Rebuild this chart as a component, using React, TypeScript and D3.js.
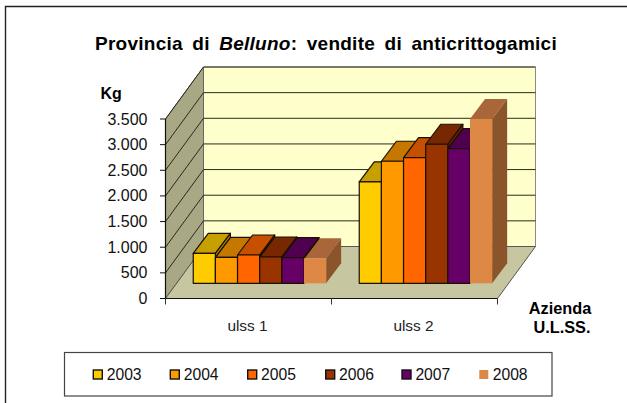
import React from 'react';
import * as d3 from 'd3';

const categories = ['ulss 1', 'ulss 2'];
const years = ['2003', '2004', '2005', '2006', '2007', '2008'];
const ulss1 = [585, 507, 552, 513, 500, 488];
const ulss2 = [1976, 2380, 2450, 2711, 2626, 3205];
const frontColors = ['#ffcc00', '#ff9900', '#ff6600', '#993300', '#660066', '#dd8844'];
const topColors = ['#c69f00', '#c67700', '#c64f00', '#772800', '#4f004f', '#a9663a'];
const sideColors = ['#a88900', '#a86500', '#a84300', '#652200', '#430043', '#8b552c'];
const ticks = [0, 500, 1000, 1500, 2000, 2500, 3000, 3500];
const legendSwatchX = [93.3, 170.3, 247.7, 325.7, 402, 479.3];

const x = d3.scaleBand<string>().domain(categories).range([165.5, 497.5]);
const y = d3.scaleLinear().domain([0, 3500]).range([298.5, 119]);
const DX = 38;
const DY = -52;
const barDX = 15;
const barDY = -20;
const barFrontDX = 11.2;
const barFrontDY = -15.2;
const barW = 22.15;
const poly = (p: number[][]) => p.map((q) => q.join(',')).join(' ');
const font = 'Liberation Sans, Arial, sans-serif';

function Bars({ cat, values }: { cat: string; values: number[] }) {
  const base = y(0) + barFrontDY;
  const cx = (x(cat) as number) + x.bandwidth() / 2 + barFrontDX;
  const x0 = cx - (barW * values.length) / 2;
  const rows = values.map((v, i) => {
    const l = x0 + i * barW;
    return { i, l, r: l + barW, t: base - (y(0) - y(v)) };
  });
  const st = (i: number) => (i === 5 ? 'none' : '#1a1000');
  return (
    <g strokeWidth={1.2} strokeLinejoin="round">
      {rows.map((b) => (
        <polygon
          key={b.i}
          points={poly([[b.l, b.t], [b.r, b.t], [b.r + barDX, b.t + barDY], [b.l + barDX, b.t + barDY]])}
          fill={topColors[b.i]}
          stroke={st(b.i)}
        />
      ))}
      {rows.map((b) => {
        const next = rows[b.i + 1];
        const low = next ? next.t : base;
        if (low <= b.t) return null;
        return (
          <polygon
            key={b.i}
            points={poly([[b.r, b.t], [b.r + barDX, b.t + barDY], [b.r + barDX, low + barDY], [b.r, low]])}
            fill={sideColors[b.i]}
            stroke={st(b.i)}
          />
        );
      })}
      {rows.map((b) => (
        <rect key={b.i} x={b.l} y={b.t} width={barW} height={base - b.t} fill={frontColors[b.i]} stroke={st(b.i)} />
      ))}
    </g>
  );
}

export default function App() {
  const x0 = x.range()[0];
  const x1 = x.range()[1];
  return (
    <svg width={627} height={403} style={{ position: 'absolute', left: 0, top: 0, background: '#fff' }}>
      <path d="M5.5,403V6.5H627" fill="none" stroke="#222" strokeWidth={1.4} />
      <text x={326} y={50} textAnchor="middle" fontFamily={font} fontSize={19} fontWeight={700} wordSpacing={4} letterSpacing={0.25}>
        Provincia di <tspan fontStyle="italic">Belluno</tspan>: vendite di anticrittogamici
      </text>
      <text x={100.5} y={99} fontFamily={font} fontSize={16} fontWeight={700}>Kg</text>

      <polygon
        points={poly([[x0 + DX, y(3500) + DY], [x1 + DX, y(3500) + DY], [x1 + DX, y(0) + DY], [x0 + DX, y(0) + DY]])}
        fill="#ffffcc"
        stroke="#8a8a80"
      />
      <polygon
        points={poly([[x0, y(3500)], [x0 + DX, y(3500) + DY], [x0 + DX, y(0) + DY], [x0, y(0)]])}
        fill="#a8a884"
        stroke="#666"
      />
      <polygon
        points={poly([[x0, y(0)], [x0 + DX, y(0) + DY], [x1 + DX, y(0) + DY], [x1, y(0)]])}
        fill="#c6c6a0"
        stroke="#555"
      />
      {ticks.slice(1).map((t) => (
        <path
          key={t}
          d={`M${x0},${y(t)}L${x0 + DX},${y(t) + DY}H${x1 + DX}`}
          fill="none"
          stroke="#2a2a20"
          strokeWidth={1}
        />
      ))}
      <Bars cat={categories[0]} values={ulss1} />
      <Bars cat={categories[1]} values={ulss2} />

      <path d={`M${x0},${y(3500)}V${y(0)}H${x1}`} fill="none" stroke="#111" strokeWidth={1.2} />
      {ticks.map((t) => (
        <g key={t}>
          <line x1={x0 - 5.5} x2={x0} y1={y(t)} y2={y(t)} stroke="#111" />
          <text x={147.5} y={y(t) + 5.5} textAnchor="end" fontFamily={font} fontSize={16} fill="#111">
            {d3.format(',')(t).replace(',', '.')}
          </text>
        </g>
      ))}
      {[x0, x0 + x.bandwidth(), x1].map((v) => (
        <line key={v} x1={v} x2={v} y1={y(0)} y2={y(0) + 6} stroke="#333" />
      ))}
      {categories.map((c) => (
        <text key={c} x={(x(c) as number) + x.bandwidth() / 2 - 1} y={331} textAnchor="middle" fontFamily={font} fontSize={15.4} fill="#222">
          {c}
        </text>
      ))}
      <text x={560} y={314} textAnchor="middle" fontFamily={font} fontSize={16.3} fontWeight={700}>Azienda</text>
      <text x={562} y={333} textAnchor="middle" fontFamily={font} fontSize={16.3} fontWeight={700}>U.L.SS.</text>

      <rect x={64.5} y={352.5} width={487.5} height={43.5} fill="#fff" stroke="#444" strokeWidth={1.2} />
      {years.map((yr, i) => (
        <g key={yr}>
          <rect x={legendSwatchX[i]} y={370} width={9} height={9} fill={frontColors[i]} stroke={i === 5 ? 'none' : '#111'} strokeWidth={1.4} />
          <text x={legendSwatchX[i] + 13.4} y={380} fontFamily={font} fontSize={15.7} fill="#111">{yr}</text>
        </g>
      ))}
    </svg>
  );
}
